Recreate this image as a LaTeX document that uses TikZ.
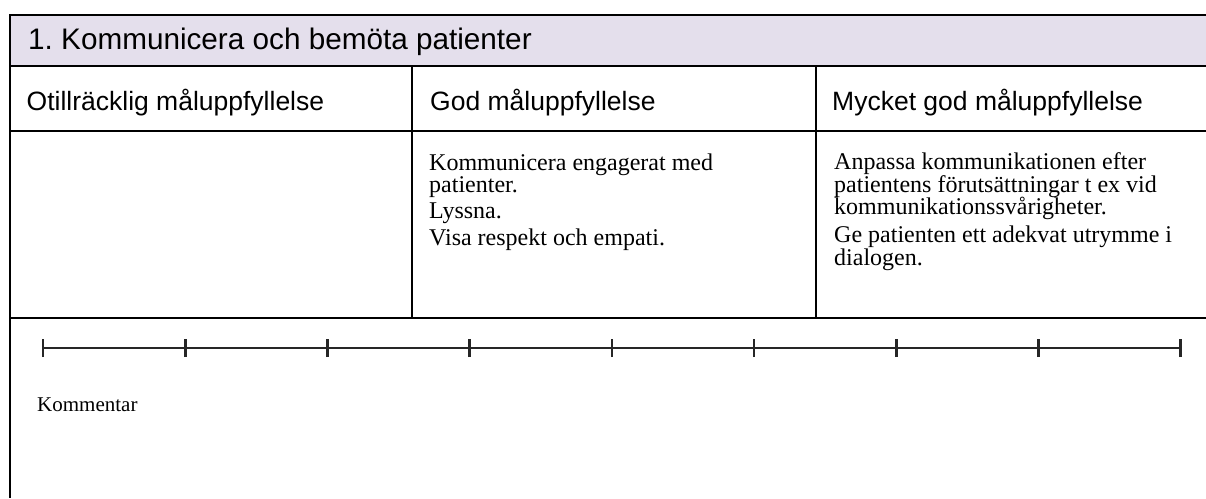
\documentclass[tikz,border=0pt]{standalone}
\usepackage{fontspec}
\setmainfont{Liberation Serif}
\newfontfamily\arialfont{Liberation Sans}
\definecolor{headfill}{HTML}{E4DFEC}
\frenchspacing
\begin{document}
\begin{tikzpicture}[x=1pt,y=-1pt,
  rule/.style={line width=2pt,black},
  scaleline/.style={line width=2pt,black!85},
  tick/.style={line width=2.6pt,black!85},
  headtxt/.style={anchor=base west,inner sep=0pt,font=\arialfont\fontsize{29.7}{33}\selectfont},
  colhead/.style={anchor=base west,inner sep=0pt,font=\arialfont\fontsize{26.5}{30}\selectfont},
  body/.style={anchor=base west,inner sep=0pt,font=\fontsize{24}{24}\selectfont},
  comment/.style={anchor=base west,inner sep=0pt,font=\fontsize{21}{21}\selectfont}]
\useasboundingbox (0,0) rectangle (1206,498);
% header band
\fill[headfill] (10,15) rectangle (1206,66);
% grid lines
\draw[rule] (10,15) -- (1206,15);
\draw[rule] (10,66) -- (1206,66);
\draw[rule] (10,131) -- (1206,131);
\draw[rule] (10,318) -- (1206,318);
\draw[rule] (10,14) -- (10,498);
\draw[rule] (412,66) -- (412,318);
\draw[rule] (816,66) -- (816,318);
% texts
\node[headtxt] (title) at (28,49) {1. Kommunicera och bemöta patienter};
\node[colhead] (h1) at (26.5,110) {Otillräcklig måluppfyllelse};
\node[colhead] (h2) at (430,110) {God måluppfyllelse};
\node[colhead] (h3) at (832,110) {Mycket god måluppfyllelse};
\node[body] (b2a) at (429,170) {Kommunicera engagerat med};
\node[body] (b2b) at (429,192) {patienter.};
\node[body] (b2c) at (429,218) {Lyssna.};
\node[body] (b2d) at (429,245) {Visa respekt och empati.};
\node[body] (b3a) at (834,169.5) {Anpassa kommunikationen efter};
\node[body] (b3b) at (834,192) {patientens förutsättningar t ex vid};
\node[body] (b3c) at (834,214.5) {kommunikationssvårigheter.};
\node[body] (b3d) at (834,242.5) {Ge patienten ett adekvat utrymme i};
\node[body] (b3e) at (834,265) {dialogen.};
\node[comment] (kom) at (37,411) {Kommentar};
% scale
\foreach \i in {0,...,8} {
  \coordinate (t\i) at ({43+\i*142.2},348);
}
\draw[scaleline] (t0) -- (t8);
\foreach \i in {0,...,8} {
  \draw[tick] ([yshift=-9pt]t\i) -- ([yshift=9pt]t\i);
}
\end{tikzpicture}
\end{document}
